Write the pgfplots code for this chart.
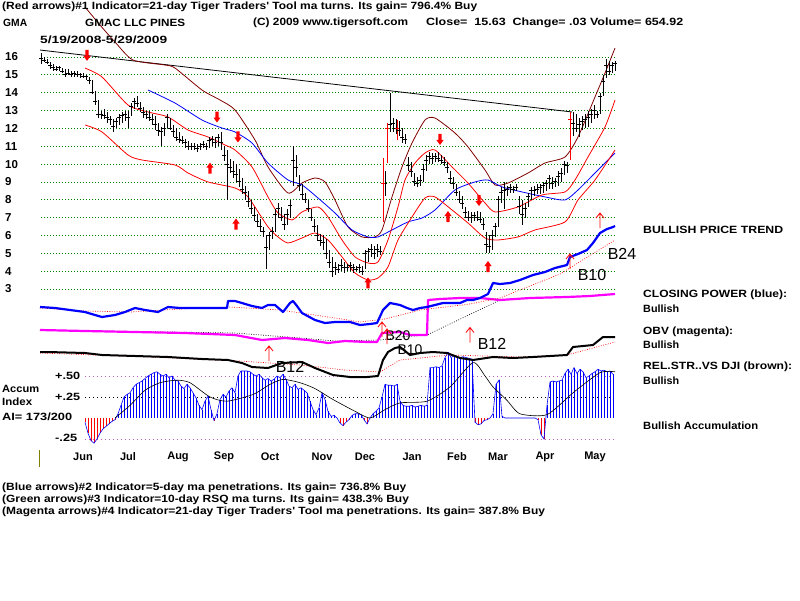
\documentclass[border=0pt]{standalone}
\usepackage{pgfplots}
\pgfplotsset{compat=1.18}
\usepackage{pgfplotstable}
\usepackage{graphicx}
\usepackage{fontspec}
\setmainfont{Liberation Sans}

\definecolor{tsred}{RGB}{255,0,0}
\definecolor{tsblue}{RGB}{0,0,255}
\definecolor{tsmag}{RGB}{255,0,255}
\definecolor{tsbrown}{RGB}{128,0,0}
\definecolor{tsgrid}{RGB}{0,128,0}
\definecolor{tsolive}{RGB}{128,128,0}
\definecolor{tspink}{RGB}{190,90,190}

\pgfdeclareplotmark{cl}{\pgfpathmoveto{\pgfqpoint{-1.6pt}{0pt}}\pgfpathlineto{\pgfqpoint{1.6pt}{0pt}}\pgfusepathqstroke}
\pgfdeclareplotmark{bigup}{%
 \pgfpathmoveto{\pgfqpoint{-1.6pt}{-6pt}}\pgfpathlineto{\pgfqpoint{1.6pt}{-6pt}}%
 \pgfpathlineto{\pgfqpoint{1.6pt}{0pt}}\pgfpathlineto{\pgfqpoint{3.6pt}{0pt}}%
 \pgfpathlineto{\pgfqpoint{0pt}{5pt}}\pgfpathlineto{\pgfqpoint{-3.6pt}{0pt}}%
 \pgfpathlineto{\pgfqpoint{-1.6pt}{0pt}}\pgfpathclose\pgfusepathqfill}
\pgfdeclareplotmark{bigdown}{%
 \pgfpathmoveto{\pgfqpoint{-1.6pt}{6pt}}\pgfpathlineto{\pgfqpoint{1.6pt}{6pt}}%
 \pgfpathlineto{\pgfqpoint{1.6pt}{0pt}}\pgfpathlineto{\pgfqpoint{3.6pt}{0pt}}%
 \pgfpathlineto{\pgfqpoint{0pt}{-5pt}}\pgfpathlineto{\pgfqpoint{-3.6pt}{0pt}}%
 \pgfpathlineto{\pgfqpoint{-1.6pt}{0pt}}\pgfpathclose\pgfusepathqfill}
\pgfdeclareplotmark{thinup}{%
 \pgfpathmoveto{\pgfqpoint{0pt}{-7.5pt}}\pgfpathlineto{\pgfqpoint{0pt}{7.5pt}}%
 \pgfpathmoveto{\pgfqpoint{-4pt}{2.5pt}}\pgfpathlineto{\pgfqpoint{0pt}{7.5pt}}%
 \pgfpathlineto{\pgfqpoint{4pt}{2.5pt}}\pgfusepathqstroke}

% price bars: x (pixel column), high, low, close
\pgfplotstableread{
x h l c
41 16.2 15.6 15.9
44 16.0 15.7 15.8
47 15.9 15.6 15.7
50 15.7 15.3 15.5
53 15.6 15.2 15.4
56 15.5 15.2 15.3
59 15.5 15.2 15.4
62 15.4 15.1 15.2
65 15.3 14.9 15.0
68 15.3 15.0 15.1
71 15.2 14.9 15.0
74 15.2 14.9 15.1
77 15.2 14.9 15.0
80 15.1 14.8 15.0
83 15.1 14.8 14.9
86 15.0 14.7 14.9
89 14.9 14.5 14.7
92 14.7 13.9 14.0
95 14.1 13.3 13.5
98 13.6 12.6 12.8
101 13.0 12.5 12.8
104 13.1 12.5 12.7
107 12.9 12.3 12.6
110 12.7 12.2 12.5
113 12.5 11.8 12.1
116 12.6 12.0 12.4
119 12.8 12.2 12.6
122 12.9 12.3 12.7
125 13.0 12.4 12.8
128 13.0 12.0 12.6
131 13.4 12.7 13.2
134 13.7 13.1 13.5
137 13.8 13.2 13.4
140 13.5 12.9 13.1
143 13.2 12.6 12.9
146 13.0 12.5 12.8
149 13.0 12.4 12.6
152 12.8 12.2 12.5
155 12.7 11.9 12.2
158 12.3 11.6 11.9
161 12.1 11.0 11.8
164 12.3 11.6 12.0
167 12.8 12.0 12.6
170 12.6 11.9 12.0
173 12.2 11.5 11.8
176 12.0 11.3 11.5
179 11.8 11.2 11.4
182 11.6 11.1 11.3
185 11.4 10.9 11.2
188 11.3 10.8 11.0
191 11.2 10.8 11.0
194 11.2 10.8 11.0
197 11.1 10.7 10.9
200 11.2 10.8 11.0
203 11.3 10.9 11.1
206 11.2 10.8 11.0
209 11.5 10.9 11.3
212 11.6 11.0 11.4
215 11.5 10.9 11.2
218 11.7 11.0 11.5
221 11.8 10.8 11.2
224 11.0 10.2 10.5
227 10.8 8.0 10.0
230 10.3 9.5 9.8
233 10.2 9.2 9.6
236 10.0 9.0 9.4
239 9.7 8.7 9.0
242 9.2 8.3 8.6
245 8.8 8.0 8.4
248 8.5 7.6 7.9
251 8.0 7.2 7.5
254 7.6 6.8 7.1
257 7.2 6.5 6.8
260 6.9 6.2 6.5
263 6.5 5.9 6.2
266 6.0 4.1 5.3
269 6.2 5.2 6.0
272 6.5 5.8 6.2
275 7.5 6.2 7.2
278 7.8 7.0 7.5
281 7.6 6.8 7.0
284 7.2 6.3 6.6
287 7.5 6.6 7.2
290 8.0 7.0 7.7
293 11.0 8.8 10.2
296 10.5 9.3 9.8
299 9.4 8.5 8.8
302 8.9 8.0 8.3
305 8.4 7.8 8.0
308 8.0 7.3 7.5
311 7.5 6.8 7.0
314 6.9 6.2 6.5
317 6.6 5.7 6.0
320 6.1 5.4 5.7
323 6.0 5.2 5.6
326 5.8 4.7 5.0
329 5.2 4.2 4.5
332 4.8 3.7 4.0
335 4.5 3.8 4.2
338 4.4 3.9 4.1
341 4.7 4.0 4.3
344 4.5 3.9 4.2
347 4.4 4.0 4.2
350 4.5 4.0 4.3
353 4.4 3.9 4.2
356 4.3 4.0 4.1
359 4.4 3.9 4.2
362 4.3 3.8 4.0
365 5.2 4.1 5.0
368 5.3 4.5 5.1
371 5.5 4.8 5.2
374 5.4 4.7 5.0
377 5.5 4.8 5.2
380 5.4 4.9 5.1
385 9.6 8.2 8.9
390 14.0 11.8 12.2
393 12.6 11.8 12.3
396 12.5 11.7 12.0
399 12.4 11.6 11.9
402 12.0 11.2 11.5
405 11.7 11.1 11.4
408 10.4 9.6 9.9
411 10.1 9.3 9.6
414 9.5 8.8 9.0
417 9.3 8.7 8.9
420 9.4 8.8 9.1
423 10.0 9.0 9.7
426 10.5 9.6 10.2
429 10.7 10.0 10.4
432 10.6 10.0 10.3
435 10.6 10.1 10.4
438 10.7 10.1 10.3
441 10.5 10.0 10.2
444 10.4 9.9 10.1
447 10.1 9.5 9.8
450 9.6 8.9 9.2
453 9.3 8.6 8.9
456 8.9 8.2 8.4
459 8.5 7.8 8.0
462 8.2 7.5 7.8
465 7.6 7.0 7.3
468 7.4 6.8 7.0
471 7.3 6.7 7.0
474 7.3 6.8 7.1
477 7.4 6.8 7.0
480 7.3 6.7 6.9
483 7.0 6.3 6.6
486 6.2 5.0 5.5
489 6.0 5.0 5.4
492 6.3 5.2 6.0
495 6.7 5.9 6.5
498 8.2 6.5 8.0
501 8.7 7.8 8.4
504 9.0 7.5 8.5
507 8.8 8.2 8.6
510 8.9 8.4 8.7
513 8.8 8.4 8.6
516 8.9 8.5 8.7
519 8.2 7.2 7.6
522 8.0 6.6 7.2
525 7.8 7.0 7.5
528 8.4 7.6 8.2
531 8.7 8.0 8.5
534 8.8 8.2 8.5
537 8.9 8.3 8.6
540 8.9 8.3 8.7
543 9.0 8.4 8.8
546 9.1 8.5 8.9
549 9.4 8.6 9.2
552 9.3 8.6 8.9
555 9.2 8.7 9.0
558 9.6 8.8 9.3
561 9.8 9.0 9.5
564 10.2 9.4 10.0
567 10.1 9.5 9.9
573 12.9 11.6 12.3
576 12.8 11.8 12.0
579 12.6 11.5 12.2
582 12.7 11.9 12.4
585 12.8 12.0 12.5
588 13.0 12.1 12.6
591 13.1 12.3 12.8
594 13.3 12.5 13.0
597 13.0 12.6 12.8
600 14.0 12.8 13.8
603 15.0 13.8 14.6
606 15.9 14.8 15.5
609 15.8 15.0 15.2
612 15.7 15.1 15.5
615 15.8 15.2 15.63
}\pricebars

\pgfplotstableread{
x h l c
383 10.34 6.76 8.9
387 12.30 10.06 12.0
397 12.47 11.35 12.0
570 12.92 10.23 12.5
}\redbars

% accumulation index
\pgfplotstableread{
x v
85 -0.05
88 -0.18
91 -0.27
94 -0.30
97 -0.25
100 -0.18
103 -0.13
106 -0.10
109 -0.07
112 -0.04
115 -0.02
118 0.05
121 0.15
124 0.25
127 0.28
130 0.30
133 0.36
136 0.40
139 0.42
142 0.44
145 0.47
148 0.50
151 0.52
154 0.54
157 0.55
160 0.52
163 0.50
166 0.52
169 0.48
172 0.50
175 0.45
178 0.44
181 0.38
184 0.35
187 0.40
190 0.36
193 0.30
196 0.24
199 0.15
202 0.10
205 0.20
208 0.26
211 0.10
214 -0.03
217 0.05
220 0.22
223 0.28
226 0.25
229 0.32
232 0.36
235 0.30
238 0.50
241 0.56
244 0.56
247 0.56
250 0.55
253 0.52
256 0.50
259 0.52
262 0.48
265 0.45
268 0.47
271 0.44
274 0.46
277 0.50
280 0.48
283 0.52
286 0.46
289 0.38
292 0.36
295 0.40
298 0.34
301 0.36
304 0.33
307 0.30
310 0.20
313 0.10
316 0.04
319 0.12
322 0.30
325 0.22
328 0.08
331 0.02
334 0.03
337 0.00
340 -0.06
343 -0.09
346 -0.05
349 -0.02
352 0.03
355 0.05
358 0.05
361 0.04
364 -0.02
367 -0.07
370 0.00
373 0.05
376 0.08
379 0.12
382 0.25
385 0.40
388 0.39
391 0.39
394 0.38
397 0.40
400 0.20
403 0.15
406 0.14
409 0.14
412 0.15
415 0.13
418 0.14
421 0.15
424 0.14
427 0.15
430 0.60
433 0.60
436 0.61
439 0.60
442 0.62
445 0.72
448 0.78
451 0.72
454 0.74
457 0.72
460 0.72
463 0.73
466 0.72
469 0.71
472 0.70
475 -0.05
478 -0.08
481 -0.07
484 -0.03
487 -0.02
490 0.00
493 0.05
496 0.40
499 0.45
502 0.02
505 0.00
508 0.00
511 0.00
514 0.00
517 0.00
520 0.00
523 0.00
526 0.00
529 0.00
532 0.00
535 0.00
538 -0.02
541 -0.20
544 -0.25
547 0.15
550 0.43
553 0.44
556 0.43
559 0.44
562 0.45
565 0.53
568 0.58
571 0.52
574 0.60
577 0.53
580 0.58
583 0.55
586 0.48
589 0.50
592 0.53
595 0.55
598 0.58
601 0.56
604 0.57
607 0.55
610 0.56
613 0.52
}\accum

\pgfplotsset{panel/.style={at={(0pt,0pt)}, anchor=south west, scale only axis,
  width=800pt, height=600pt, xmin=0, xmax=800, hide axis, clip=false}}

\newcommand{\hdtext}{(Red arrows)\#1 Indicator=21-day Tiger Traders\textquotesingle\ Tool ma turns. Its gain= 796.4\% Buy}
\newlength{\hdw}

\begin{document}
\settowidth{\hdw}{\bfseries\fontsize{10.5}{12}\selectfont\hdtext}%
\pgfmathsetmacro{\tsfac}{475/\hdw}%
\begin{tikzpicture}
\path (0pt,0pt) rectangle (800pt,600pt);

% ---------------- price panel (y in dollars) ----------------
\begin{axis}[panel, ymin=-14.4202, ymax=19.1933]
\pgfplotsinvokeforeach{3,...,16}{
  \addplot[tsgrid, line width=0.8pt, dash pattern=on 0.8pt off 2.2pt] coordinates {(41,#1) (615,#1)};
  \node[anchor=west, inner sep=0pt, font=\bfseries\fontsize{11.5}{13}\selectfont] at (axis cs:5,#1) {#1};
}
% long trend line
\addplot[black, line width=0.8pt] coordinates {(40,16.39) (572,12.92)};
% brown band
\addplot[tsbrown, line width=0.8pt, smooth, tension=0.4] coordinates {
(85,18.80) (100,17.79) (115,16.84) (133,15.83) (165,15.55) (175,15.38) (202,14.15) (220,13.59)
(235,13.03) (255,11.35) (268,9.84) (288,8.38) (302,8.94) (315,9.22) (325,9.00) (335,7.99)
(348,6.48) (362,5.92) (375,5.92) (382,6.31) (392,8.16) (402,9.84) (412,11.18) (425,12.47)
(435,12.58) (455,11.74) (468,10.96) (485,9.67) (495,8.83) (508,8.94) (528,9.50) (545,10.06)
(565,10.40) (578,11.52) (595,13.76) (605,15.10) (615,16.50)};
% blue moving average
\addplot[tsblue, line width=0.8pt, smooth, tension=0.4] coordinates {
(148,14.15) (175,13.42) (202,12.47) (222,12.02) (235,11.80) (252,11.18) (268,10.06) (288,9.11)
(302,8.83) (318,8.10) (335,7.26) (352,6.31) (368,5.92) (378,5.92) (392,6.31) (408,6.76)
(422,6.98) (435,7.43) (455,8.55) (475,9.00) (488,9.11) (502,8.72) (522,8.44) (545,8.16)
(565,7.99) (578,8.55) (595,9.50) (615,10.62)};
% red upper band
\addplot[tsred, line width=0.8pt, smooth, tension=0.4] coordinates {
(85,15.38) (102,14.88) (128,13.31) (148,12.92) (168,12.64) (188,11.91) (208,11.52) (225,11.07)
(235,10.79) (252,9.84) (268,8.16) (278,7.26) (292,6.87) (302,7.32) (318,7.60) (328,7.04)
(342,5.75) (355,4.80) (368,4.46) (378,4.52) (388,5.75) (398,7.60) (405,9.11) (415,10.06)
(425,10.62) (435,10.79) (452,9.84) (468,8.94) (485,7.82) (495,7.32) (518,7.60) (542,8.27)
(565,8.44) (575,9.11) (588,10.40) (605,12.08) (615,13.59)};
% red lower band
\addplot[tsred, line width=0.8pt, smooth, tension=0.4] coordinates {
(85,12.19) (102,11.80) (128,10.51) (142,10.23) (175,9.95) (188,9.50) (208,9.00) (235,8.66)
(248,8.16) (268,6.48) (278,5.92) (288,5.58) (302,5.86) (315,6.14) (328,5.75) (342,4.80)
(355,3.90) (368,3.51) (378,3.62) (388,4.24) (398,5.75) (412,7.04) (425,8.10) (435,8.16)
(452,7.43) (468,6.70) (485,5.86) (498,5.75) (518,5.92) (535,6.31) (565,6.76) (578,7.99)
(595,9.11) (615,10.79)};
% price bars
\addplot[black, line width=1pt, only marks, mark=cl,
  error bars/.cd, y dir=both, y explicit, error mark=none,
  error bar style={black, line width=1pt}]
  table[x=x, y=c, y error plus expr=\thisrow{h}-\thisrow{c}, y error minus expr=\thisrow{c}-\thisrow{l}] {\pricebars};
\addplot[tsred, line width=1pt, only marks, mark=cl,
  error bars/.cd, y dir=both, y explicit, error mark=none,
  error bar style={tsred, line width=1pt}]
  table[x=x, y=c, y error plus expr=\thisrow{h}-\thisrow{c}, y error minus expr=\thisrow{c}-\thisrow{l}] {\redbars};
% red signal arrows
\addplot[tsred, only marks, mark=bigup] coordinates {(210,9.80) (236,6.67) (368,3.37) (448,7.09) (488,4.29)};
\addplot[tsred, only marks, mark=bigdown] coordinates {(87,16.06) (217,12.61) (238,11.49) (440,11.35) (479,7.93)};
\end{axis}

% ---------------- accumulation index ----------------
\begin{axis}[panel, ymin=-2.16667, ymax=4.97619]
\addplot[tspink, line width=0.8pt, dash pattern=on 0.8pt off 3.2pt] coordinates {(85,0.5) (615,0.5)};
\addplot[black, line width=0.8pt, dash pattern=on 0.8pt off 3.2pt] coordinates {(85,0.25) (615,0.25)};
\addplot[tspink, line width=0.8pt, dash pattern=on 0.8pt off 3.2pt] coordinates {(85,-0.25) (615,-0.25)};
\addplot[tsblue, line width=0.9pt, ycomb, mark=none, restrict y to domain=0:2] table[x=x,y=v] {\accum};
\addplot[tsred, line width=0.9pt, ycomb, mark=none, restrict y to domain=-2:0] table[x=x,y=v] {\accum};
\addplot[tsblue, line width=0.6pt, mark=none] table[x=x,y=v] {\accum};
\addplot[black, line width=0.6pt, smooth, tension=0.4] coordinates {
(115,0.00) (130,0.15) (145,0.33) (160,0.42) (177,0.45) (190,0.42) (210,0.25) (227,0.20)
(253,0.28) (270,0.40) (283,0.46) (300,0.42) (315,0.35) (333,0.22) (355,0.08) (370,0.00)
(385,0.10) (400,0.18) (427,0.20) (450,0.37) (473,0.66) (485,0.50) (493,0.37) (507,0.21)
(520,0.05) (547,0.04) (573,0.30) (600,0.54) (615,0.55)};
\end{axis}

% ---------------- indicator lines and texts (pixel rows) ----------------
\begin{axis}[panel, ymin=0, ymax=600, y dir=reverse]
% relative strength (thick black) and its average
\addplot[tsred, line width=0.7pt, dash pattern=on 0.8pt off 1.6pt] coordinates {
(40,353) (150,357) (240,361) (300,365) (345,370) (380,372) (400,360) (450,355) (520,357) (567,355) (615,342)};
\addplot[black, line width=2pt, line join=round] coordinates {
(40,352) (48,352) (85,353) (102,355) (135,356) (168,357) (202,359) (228,360) (242,363) (252,367)
(268,368) (282,363) (302,362) (315,368) (333,375) (350,377) (367,377) (378,376) (383,360) (388,352)
(395,348) (400,347) (410,355) (420,353) (433,352) (447,353) (460,358) (473,360) (493,357) (513,358)
(533,357) (567,355) (573,347) (593,345) (603,337) (615,337)};
% OBV (magenta) and its average
\addplot[black, line width=0.7pt, dash pattern=on 0.8pt off 1.6pt] coordinates {
(40,330) (235,333) (300,338) (335,341) (380,340) (400,337) (427,335) (500,300)};
\addplot[tsmag, line width=2.2pt, line join=round] coordinates {
(40,330) (85,331) (135,332) (185,333) (235,335) (262,340) (285,338) (308,340) (328,343) (345,341)
(367,342) (377,342) (382,333) (400,332) (410,335) (427,335) (428,300) (440,299) (460,298) (480,298)
(500,300) (530,298) (567,297) (590,296) (615,294)};
% closing power (blue) and its average
\addplot[tsred, line width=0.7pt, dash pattern=on 0.8pt off 1.6pt] coordinates {
(40,308) (85,311) (130,312) (180,309) (230,307) (280,310) (335,318) (360,322) (385,319) (420,310)
(470,304) (500,298) (560,274) (615,240)};
\addplot[tsblue, line width=2.2pt, line join=round] coordinates {
(40,307) (55,308) (70,310) (85,312) (95,315) (102,317) (115,315) (125,312) (135,308) (145,310)
(158,312) (168,307) (180,308) (195,308) (210,308) (227,308) (228,301) (235,301) (242,303) (252,306)
(262,308) (268,305) (275,305) (283,312) (290,303) (293,301) (297,306) (302,313) (315,320) (325,323)
(335,322) (350,322) (360,325) (370,324) (377,323) (383,310) (390,303) (400,305) (407,308) (413,310)
(420,308) (427,307) (443,303) (460,303) (467,300) (473,300) (480,298) (488,294) (493,283) (500,284)
(510,283) (520,280) (533,275) (545,272) (555,268) (567,265) (570,257) (578,254) (587,250) (593,243)
(600,233) (607,229) (613,227) (615,226)};
% thin buy arrows
\addplot[tsred, line width=0.8pt, only marks, mark=thinup] coordinates {
(269,353.5) (382,329.5) (387,336.5) (470,335) (570,261.5) (600,220.5)};
% small olive tick
\addplot[tsolive, line width=1pt] coordinates {(39,450) (39,467)};

% signal labels
\begin{scope}[every node/.style={inner sep=0pt, font=\fontsize{16}{18}\selectfont}]
\node at (axis cs:622,254) {B24};
\node at (axis cs:592,275) {B10};
\node at (axis cs:290,367) {B12};
\node at (axis cs:492,344) {B12};
\end{scope}
\begin{scope}[every node/.style={inner sep=0pt, font=\fontsize{14}{16}\selectfont}]
\node at (axis cs:398,336) {B20};
\node at (axis cs:410,350) {B10};
\end{scope}

% header texts
\begin{scope}[every node/.style={anchor=west, inner sep=0pt, font=\bfseries\fontsize{10.5}{12}\selectfont}]
\node at (axis cs:2,7) {\resizebox{475pt}{\height}{\hdtext}};
\node at (axis cs:3,23) {\resizebox{24pt}{\height}{GMA}};
\node at (axis cs:85,23) {\resizebox{100pt}{\height}{GMAC LLC PINES}};
\node at (axis cs:253,23) {\resizebox{155pt}{\height}{(C) 2009 www.tigersoft.com}};
\node at (axis cs:426,23) {\resizebox{257pt}{\height}{Close=\ \ 15.63\ \ Change= .03 Volume= 654.92}};
\node at (axis cs:40,40) {\resizebox{127pt}{\height}{5/19/2008-5/29/2009}};
% right-hand labels
\node at (axis cs:643,230) {\resizebox{140pt}{\height}{BULLISH PRICE TREND}};
\node at (axis cs:643,295) {\resizebox{144pt}{\height}{CLOSING POWER (blue):}};
\node at (axis cs:643,309) {\resizebox{36pt}{\height}{Bullish}};
\node at (axis cs:643,332) {\resizebox{90pt}{\height}{OBV (magenta):}};
\node at (axis cs:643,345) {\resizebox{36pt}{\height}{Bullish}};
\node at (axis cs:643,367) {\resizebox{149pt}{\height}{REL.STR..VS DJI (brown):}};
\node at (axis cs:643,381) {\resizebox{36pt}{\height}{Bullish}};
\node at (axis cs:643,426) {\resizebox{115pt}{\height}{Bullish Accumulation}};
% accumulation labels
\node at (axis cs:2,389) {\resizebox{37pt}{\height}{Accum}};
\node at (axis cs:2,402) {\resizebox{30pt}{\height}{Index}};
\node at (axis cs:2,417) {\resizebox{70pt}{\height}{AI= 173/200}};
\node at (axis cs:55,376) {\resizebox{25pt}{\height}{+.50}};
\node at (axis cs:55,397) {\resizebox{25pt}{\height}{+.25}};
\node at (axis cs:55,438) {\resizebox{22pt}{\height}{-.25}};
% bottom lines
\node at (axis cs:2,488) {\scalebox{\tsfac}[1]{(Blue arrows)\#2 Indicator=5-day ma penetrations. Its gain= 736.8\% Buy}};
\node at (axis cs:2,500) {\scalebox{\tsfac}[1]{(Green arrows)\#3 Indicator=10-day RSQ ma turns. Its gain= 438.3\% Buy}};
\node at (axis cs:2,512) {\scalebox{\tsfac}[1]{(Magenta arrows)\#4 Indicator=21-day Tiger Traders\textquotesingle\ Tool ma penetrations. Its gain= 387.8\% Buy}};
\end{scope}
% month labels
\begin{scope}[every node/.style={inner sep=0pt, font=\bfseries\fontsize{11}{12}\selectfont}]
\node at (axis cs:83,457) {Jun};
\node at (axis cs:128,457) {Jul};
\node at (axis cs:178,457) {Aug};
\node at (axis cs:224,457) {Sep};
\node at (axis cs:270,457) {Oct};
\node at (axis cs:322,457) {Nov};
\node at (axis cs:365,457) {Dec};
\node at (axis cs:412,457) {Jan};
\node at (axis cs:457,457) {Feb};
\node at (axis cs:498,457) {Mar};
\node at (axis cs:545,457) {Apr};
\node at (axis cs:595,457) {May};
\end{scope}
\end{axis}
\end{tikzpicture}
\end{document}
